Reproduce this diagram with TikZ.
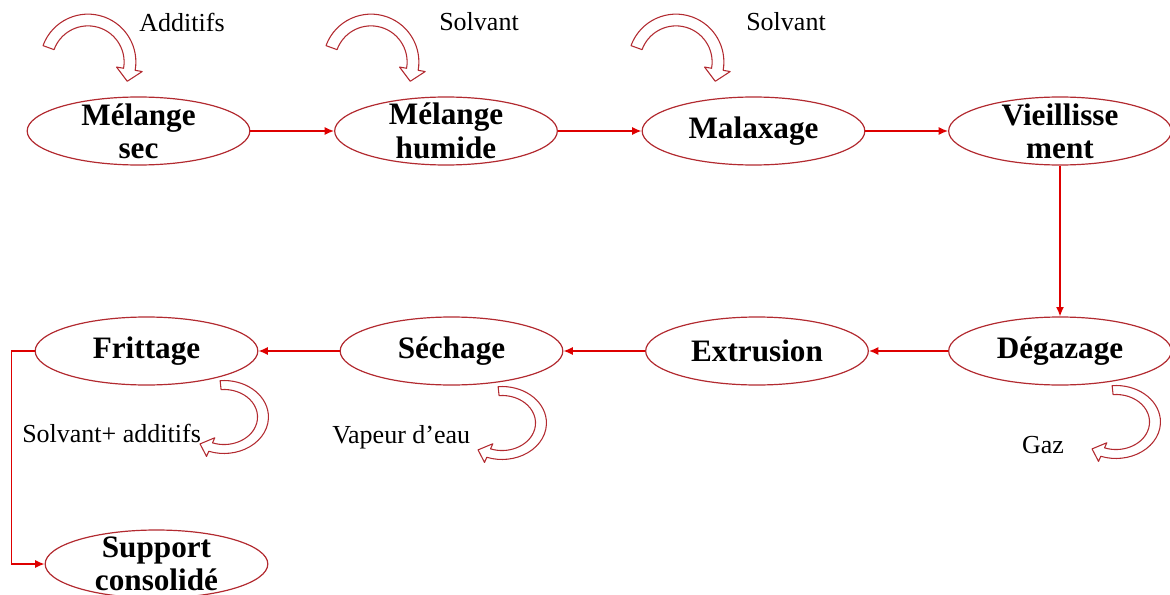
\documentclass[tikz,border=0pt]{standalone}
\usepackage{fontspec}
\setmainfont{Liberation Serif}
\usetikzlibrary{shapes.geometric,arrows.meta}
\definecolor{ovalred}{RGB}{178,42,48}
\definecolor{linkred}{RGB}{222,0,0}
\tikzset{
 stage/.style={ellipse,draw=ovalred,line width=0.9pt,minimum width=167pt,minimum height=51pt,inner sep=0pt,
   label={[font=\fontsize{23.4}{25}\selectfont\bfseries,align=center]center:#1}},
 flow/.style={draw=linkred,line width=1.1pt,-{Latex[length=7pt,width=6pt]}},
 bent/.style={draw=ovalred,line width=0.8pt,fill=white,line join=round},
 note/.style={font=\fontsize{19.5}{23}\selectfont,inner sep=0pt}
}
% hollow bent arrow: centre, x radius, y radius, start angle, end angle
\newcommand{\bentarrow}[5]{%
\begin{scope}[shift={(#1)},xscale=#2,yscale=#3]
\draw[bent] (#4:1.14) arc[start angle=#4,end angle=#5,radius=1.14] -- (#5:1.31)
 -- ({cos(#5)+0.29*sin(#5)},{sin(#5)-0.29*cos(#5)}) -- (#5:0.69) -- (#5:0.86)
 arc[start angle=#5,end angle=#4,radius=0.86] -- cycle;
\end{scope}}

\begin{document}
\begin{tikzpicture}[x=0.75pt,y=0.75pt]
\useasboundingbox (0,0) rectangle (1170,594);
% first row
\draw (138.5,463) node[stage={Mélange\\sec}](melsec) {};
\draw (446,463) node[stage={Mélange\\humide}](melhum) {};
\draw (753.5,463) node[stage={Malaxage}](malax) {};
\draw (1060,463) node[stage={Vieillisse\\ment}](vieil) {};
% second row
\draw (1060,243) node[stage={Dégazage}](degaz) {};
\draw (757,243) node[stage={Extrusion}](extr) {};
\draw (451.5,243) node[stage={Séchage}](sech) {};
\draw (146.5,243) node[stage={Frittage}](fritt) {};
\draw (156.5,30) node[stage={Support\\consolidé}](supp) {};
% links
\draw[flow] (melsec) -- (melhum);
\draw[flow] (melhum) -- (malax);
\draw[flow] (malax) -- (vieil);
\draw[flow] (vieil) -- (degaz);
\draw[flow] (degaz) -- (extr);
\draw[flow] (extr) -- (sech);
\draw[flow] (sech) -- (fritt);
\draw[flow] (fritt.west) -- ++(-23,0) |- (supp.west);
% inputs and outputs
\bentarrow{88,532}{42}{42}{160}{-10}
\bentarrow{371,532}{42}{42}{160}{-10}
\bentarrow{676,532}{42}{42}{160}{-10}
\bentarrow{224,177}{39}{32}{95}{-110}
\bentarrow{502,171}{39}{32}{95}{-110}
\bentarrow{1116,172}{39}{32}{95}{-110}
\draw (182,572) node[note](additifs) {Additifs};
\draw (479,572) node[note](solvA) {Solvant};
\draw (786,572) node[note](solvB) {Solvant};
\draw (22,161) node[note,anchor=west](solvadd) {Solvant+ additifs};
\draw (332,157) node[note,anchor=west](vapeur) {Vapeur d’eau};
\draw (1043,149) node[note](gaz) {Gaz};
\end{tikzpicture}
\end{document}
